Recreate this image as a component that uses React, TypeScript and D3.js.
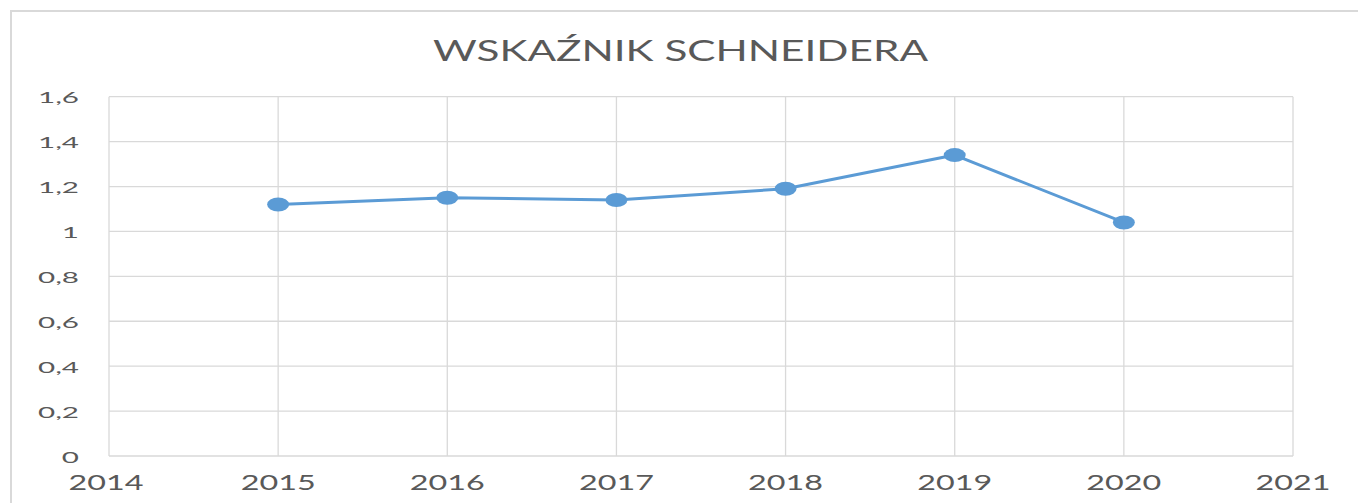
import React from "react";
import * as d3 from "d3";

const years = [2015, 2016, 2017, 2018, 2019, 2020];
const values = [1.12, 1.15, 1.14, 1.19, 1.34, 1.04];
const xTicks = [2014, 2015, 2016, 2017, 2018, 2019, 2020, 2021];
const yTicks = [0, 0.2, 0.4, 0.6, 0.8, 1, 1.2, 1.4, 1.6];
const title = "WSKAŹNIK SCHNEIDERA";

const W = 1358;
const H = 503;
const FONT = "Lato, 'Open Sans', sans-serif";
const TEXT = "#595959";
const GRID = "#d9d9d9";
const LINE = "#5b9bd5";

function measure(text: string, size: number): number {
  const c = document.createElement("canvas").getContext("2d");
  if (!c) return text.length * size * 0.55;
  c.font = `${size}px Lato`;
  return c.measureText(text).width;
}

const fmt = (v: number) => String(v).replace(".", ",");

export default function App() {
  const x = d3.scaleLinear().domain([2014, 2021]).range([109, 1293]);
  const y = d3.scaleLinear().domain([0, 1.6]).range([456, 96.7]);

  const line = d3
    .line<number>()
    .x((_, i) => x(years[i]))
    .y((d) => y(d));

  const ySize = 16;
  const ySx = 41 / measure("1,6", ySize);
  const xSize = 21;
  const xSx = 75 / measure("2014", xSize);

  return (
    <svg
      width={W}
      height={H}
      style={{ position: "absolute", left: 0, top: 0, background: "#fff" }}
      fontFamily={FONT}
    >
      <rect x={0} y={0} width={W} height={H} fill="#fff" />
      <rect x={11} y={11} width={W + 10} height={H + 10} fill="none" stroke={GRID} strokeWidth={2} />
      <text
        x={680.5}
        y={61}
        textAnchor="middle"
        fontSize={28}
        fill={TEXT}
        textLength={495}
        lengthAdjust="spacingAndGlyphs"
      >
        {title}
      </text>
      {yTicks.map((t) => (
        <line key={"gy" + t} x1={x(2014)} x2={x(2021)} y1={y(t)} y2={y(t)} stroke={GRID} strokeWidth={1.3} />
      ))}
      {xTicks.map((t) => (
        <line key={"gx" + t} x1={x(t)} x2={x(t)} y1={y(0)} y2={y(1.6)} stroke={GRID} strokeWidth={1.3} />
      ))}
      {yTicks.map((t) => (
        <g key={"yl" + t} transform={`translate(79,${y(t) + 6.5}) scale(${ySx},1)`}>
          <text textAnchor="end" fontSize={ySize} fill={TEXT}>
            {fmt(t)}
          </text>
        </g>
      ))}
      {xTicks.map((t) => (
        <g key={"xl" + t} transform={`translate(${x(t) - (t === 2014 ? 3 : 0)},490) scale(${xSx},1)`}>
          <text textAnchor="middle" fontSize={xSize} fill={TEXT}>
            {t}
          </text>
        </g>
      ))}
      <path d={line(values) || ""} fill="none" stroke={LINE} strokeWidth={3} strokeLinejoin="round" />
      {values.map((v, i) => (
        <ellipse key={"m" + i} cx={x(years[i])} cy={y(v)} rx={11} ry={7} fill={LINE} />
      ))}
    </svg>
  );
}
